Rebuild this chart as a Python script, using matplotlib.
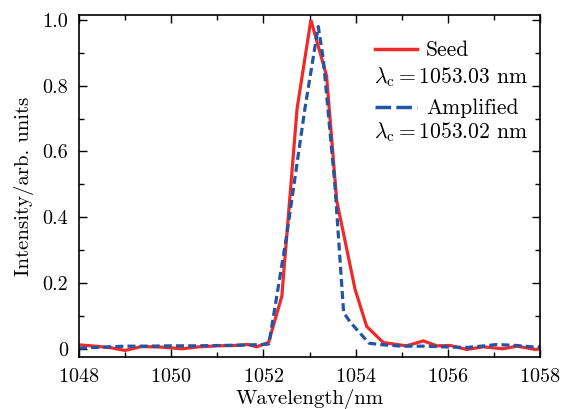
import matplotlib
matplotlib.use("Agg")
import matplotlib.pyplot as plt
from matplotlib.lines import Line2D
from matplotlib.ticker import MultipleLocator, FixedLocator, FixedFormatter

plt.rcParams['font.family'] = 'serif'
plt.rcParams['font.serif'] = ['cmr10']
plt.rcParams['mathtext.fontset'] = 'cm'
plt.rcParams['axes.unicode_minus'] = False
plt.rcParams['axes.formatter.use_mathtext'] = True

# spectra
seed_wl = [1048.0, 1048.35, 1048.7, 1049.0, 1049.36, 1049.8, 1050.23, 1050.6, 1051.0,
           1051.35, 1051.67, 1051.85, 1052.11, 1052.4, 1052.73, 1053.03, 1053.37,
           1053.59, 1053.99, 1054.24, 1054.6, 1055.1, 1055.47, 1055.76, 1056.05,
           1056.41, 1056.77, 1057.2, 1057.5, 1057.9, 1058.0]
seed_int = [0.012, 0.008, 0.003, -0.005, 0.007, 0.005, 0.0, 0.006, 0.009,
            0.010, 0.013, 0.006, 0.019, 0.16, 0.73, 1.0, 0.83,
            0.45, 0.18, 0.068, 0.019, 0.009, 0.024, 0.009, 0.010,
            -0.002, 0.006, 0.0, 0.008, -0.002, 0.0]

amp_wl = [1048.0, 1048.5, 1049.0, 1049.5, 1050.0, 1050.5, 1051.0, 1051.5, 1052.0,
          1052.12, 1052.5, 1052.9, 1053.19, 1053.3, 1053.55, 1053.74, 1053.89,
          1054.29, 1054.6, 1055.0, 1055.5, 1055.9, 1056.4, 1056.8, 1057.06,
          1057.5, 1057.9, 1058.0]
amp_int = [0.002, 0.005, 0.008, 0.008, 0.009, 0.009, 0.010, 0.011, 0.013,
           0.015, 0.34, 0.73, 0.98, 0.88, 0.50, 0.11, 0.08,
           0.017, 0.012, 0.008, 0.008, 0.006, 0.004, 0.009, 0.013,
           0.010, 0.005, 0.006]

xticks = [1048, 1050, 1052, 1054, 1056, 1058]
yticks = [0, 0.2, 0.4, 0.6, 0.8, 1.0]
ytick_labels = ['0', '0.2', '0.4', '0.6', '0.8', '1.0']

red = '#ee2a2a'
blue = '#2255a4'

fig = plt.figure(figsize=(5.65, 4.09), dpi=100)
ax = fig.add_axes([0.1398, 0.1271, 0.816, 0.8362])

ax.plot(seed_wl, seed_int, color=red, lw=2.3, solid_joinstyle='miter')
ax.plot(amp_wl, amp_int, color=blue, lw=2.3, dashes=(2.5, 1.3))

ax.set_xlim(1048, 1058)
ax.set_ylim(-0.025, 1.015)
ax.xaxis.set_major_locator(FixedLocator(xticks))
ax.xaxis.set_minor_locator(MultipleLocator(1))
ax.yaxis.set_major_locator(FixedLocator(yticks))
ax.yaxis.set_major_formatter(FixedFormatter(ytick_labels))
ax.yaxis.set_minor_locator(MultipleLocator(0.1))
ax.tick_params(which='both', direction='in', top=True, right=True, labelsize=14.5, width=1.0)
ax.tick_params(which='major', length=6, pad=8)
ax.tick_params(which='minor', length=3.5)
for s in ax.spines.values():
    s.set_linewidth(1.2)

ax.set_xlabel('Wavelength/nm', fontsize=15, labelpad=2)
ax.set_ylabel('Intensity/arb. units', fontsize=15, labelpad=6)

h1 = Line2D([], [], color=red, lw=2.5)
h2 = Line2D([], [], color=blue, lw=2.5, dashes=(4.5, 1.5))
ax.legend([h1, h2], ['Seed', 'Amplified'], loc='upper left', bbox_to_anchor=(0.642, 0.925),
          frameon=False, fontsize=15.5, handlelength=1.95, handletextpad=0.42, labelspacing=1.79,
          borderaxespad=0, borderpad=0)
ax.text(0.640, 0.819, r'$\lambda_{\rm c}=1053.03$ nm', transform=ax.transAxes, fontsize=15.5,
        va='center')
ax.text(0.640, 0.658, r'$\lambda_{\rm c}=1053.02$ nm', transform=ax.transAxes, fontsize=15.5,
        va='center')

fig.savefig('out.png', dpi=100)
